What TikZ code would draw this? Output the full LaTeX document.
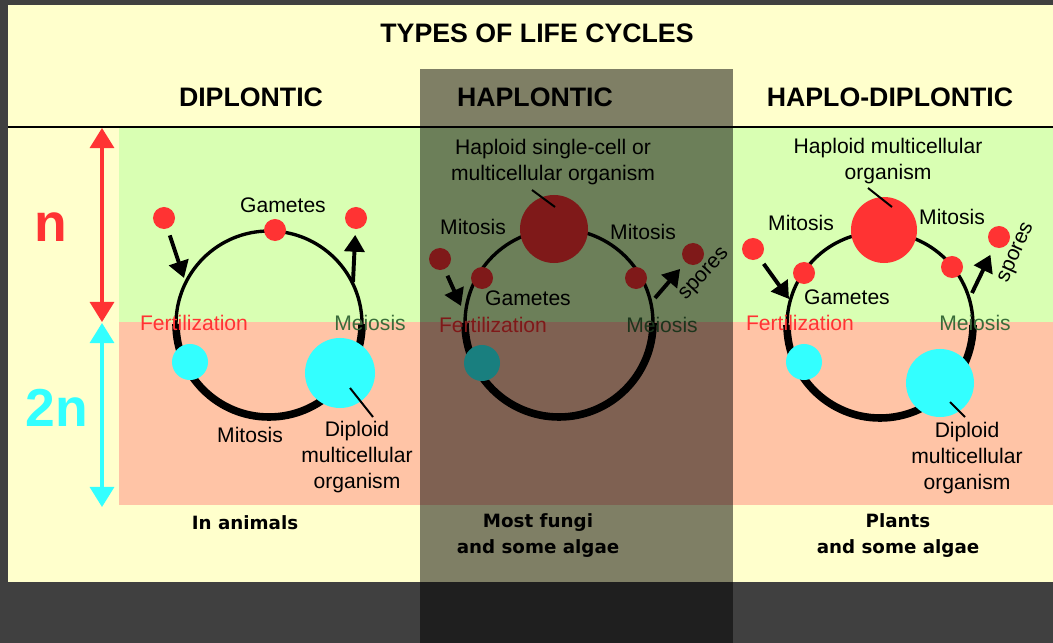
\documentclass[tikz,border=0pt]{standalone}
\usepackage{fontspec}
\setmainfont{Liberation Sans}
\newfontfamily\footfont{DejaVu Sans}
\usetikzlibrary{arrows.meta, positioning}
\definecolor{cbg}{HTML}{404040}
\definecolor{ccream}{HTML}{FFFFCC}
\definecolor{cgreen}{HTML}{D9FFB3}
\definecolor{csalmon}{HTML}{FFC4A6}
\definecolor{cred}{HTML}{FF3333}
\definecolor{ccyan}{HTML}{33FFFF}
\definecolor{cmeio}{HTML}{3A6B3A}
\tikzset{
  every picture/.style={font=\fontsize{15}{18.5}\selectfont},
  title/.style={font=\fontsize{19}{23}\selectfont\bfseries},
  label/.style={align=center, inner sep=0pt},
  fert/.style={label, text=cred},
  meio/.style={label, text=cmeio},
  foot/.style={font=\footfont\fontsize{13}{18.5}\selectfont\bfseries, align=center},
  ploidy/.style={font=\fontsize{38}{40}\selectfont\bfseries, inner sep=0pt},
  hapdot/.style={circle, fill=cred, inner sep=0pt, minimum size=#1},
  hapdot/.default=0.55cm,
  dipdot/.style={circle, fill=ccyan, inner sep=0pt, minimum size=#1},
  dipdot/.default=0.9cm,
  haparc/.style={line width=2.4pt},
  diparc/.style={line width=5.4pt},
  arrow/.style={-{Triangle[length=0.42cm, width=0.5cm]}, line width=2.8pt},
  level/.style={{Triangle[length=0.5cm, width=0.6cm]}-{Triangle[length=0.5cm, width=0.6cm]}, line width=2.3pt},
  leader/.style={line width=1.4pt},
}
% cycle: thin haploid half on top, thick diploid half below
\newcommand{\lifecycle}[4]{
  \coordinate (#1) at (#2,#3);
  \draw[haparc] (#1) ++(180:#4) arc[start angle=180, end angle=360, radius=#4];
  \draw[diparc] (#1) ++(0:#4) arc[start angle=0, end angle=180, radius=#4];}

\begin{document}
\begin{tikzpicture}[x=0.025cm, y=-0.025cm]
  \useasboundingbox[fill=cbg] (0,0) rectangle (1053,643);
  \fill[ccream] (8,5) rectangle (1053,582);
  \fill[cgreen] (119,128) rectangle (1053,322);
  \fill[csalmon] (119,322) rectangle (1053,505);
  \draw[line width=2pt] (8,127) -- (1053,127);

  \node[title] (ttl) at (537,33) {TYPES OF LIFE CYCLES};
  \node[title] (hdip) at (251,97) {DIPLONTIC};
  \node[title] (hhap) at (535,97) {HAPLONTIC};
  \node[title] (hhd) at (890,97) {HAPLO-DIPLONTIC};

  % ploidy levels
  \node[ploidy, text=cred] (n) at (51,227) {n};
  \node[ploidy, text=ccyan] (twon) at (57,408) {2n};
  \coordinate (ntop) at (102,128);
  \coordinate (nbot) at (102,322);
  \coordinate (dtop) at (102,323);
  \coordinate (dbot) at (102,507);
  \draw[level, cred] (ntop) -- (nbot);
  \draw[level, ccyan] (dtop) -- (dbot);

  % diplontic
  \lifecycle{cdip}{269}{324}{93}
  \node[hapdot] (dgam) at (275,230) {};
  \node[hapdot] (dg1) at (164,218) {};
  \node[hapdot] (dg2) at (356,218) {};
  \node[dipdot] (dzyg) at (190,362) {};
  \node[dipdot=1.75cm] (dorg) at (340,373) {};
  \node[label] (dgamt) at (283,205) {Gametes};
  \node[fert] (dfert) at (194,323) {Fertilization};
  \node[meio] (dmeio) at (370,323) {Meiosis};
  \node[label] (dmit) at (250,435) {Mitosis};
  \node[label] (dorgt) at (357,457) {Diploid\\multicellular\\organism};
  \node[foot] (dfoot) at (245,523) {In animals};
  \coordinate (da1) at (184,278);
  \coordinate (da2) at (353,282);
  \draw[arrow, shorten <=5pt] (dg1) -- (da1);
  \draw[arrow, shorten >=4pt] (da2) -- (dg2);
  \coordinate (dl1) at (350,388);
  \coordinate (dl2) at (373,417);
  \draw[leader] (dl1) -- (dl2);

  % haplontic
  \lifecycle{chap}{559}{323}{94}
  \node[hapdot=1.7cm] (horg) at (554,229) {};
  \node[hapdot] (hgam) at (482,278) {};
  \node[hapdot] (hspo) at (636,278) {};
  \node[hapdot] (hg1) at (440,259) {};
  \node[hapdot] (hsp) at (693,254) {};
  \node[dipdot] (hzyg) at (482,363) {};
  \node[label] (horgt) at (553,162) {Haploid single-cell or\\multicellular organism};
  \node[label] (hmit1) at (473,227) {Mitosis};
  \node[label] (hmit2) at (643,232) {Mitosis};
  \node[label] (hgamt) at (528,298) {Gametes};
  \node[fert] (hfert) at (493,325) {Fertilization};
  \node[meio] (hmeio) at (662,325) {Meiosis};
  \node[label, rotate=47] (hspot) at (705,275) {spores};
  \node[foot] (hfoot) at (538,536) {Most fungi\\and some algae};
  \coordinate (ha1) at (461,306);
  \coordinate (ha2) at (655,298);
  \draw[arrow, shorten <=5pt] (hg1) -- (ha1);
  \draw[arrow, shorten >=6pt] (ha2) -- (hsp);
  \coordinate (hl1) at (532,190);
  \coordinate (hl2) at (555,207);
  \draw[leader] (hl1) -- (hl2);

  % haplo-diplontic
  \lifecycle{chd}{880}{325}{93}
  \node[hapdot=1.65cm] (xorg) at (884,230) {};
  \node[hapdot] (xgam) at (804,273) {};
  \node[hapdot] (xspo) at (952,267) {};
  \node[hapdot] (xg1) at (753,249) {};
  \node[hapdot] (xsp) at (999,237) {};
  \node[dipdot] (xzyg) at (804,362) {};
  \node[dipdot=1.7cm] (xdip) at (940,383) {};
  \node[label] (xorgt) at (888,161) {Haploid multicellular\\organism};
  \node[label] (xmit1) at (801,223) {Mitosis};
  \node[label] (xmit2) at (952,217) {Mitosis};
  \node[label] (xgamt) at (847,297) {Gametes};
  \node[fert] (xfert) at (800,323) {Fertilization};
  \node[meio] (xmeio) at (975,323) {Meiosis};
  \node[label, rotate=66] (xspot) at (1017,253) {spores};
  \node[label] (xdipt) at (967,458) {Diploid\\multicellular\\organism};
  \node[foot] (xfoot) at (898,536) {Plants\\and some algae};
  \coordinate (xa1) at (789,299);
  \coordinate (xa2) at (972,293);
  \draw[arrow, shorten <=5pt] (xg1) -- (xa1);
  \draw[arrow, shorten >=6pt] (xa2) -- (xsp);
  \coordinate (xl1) at (868,188);
  \coordinate (xl2) at (892,207);
  \draw[leader] (xl1) -- (xl2);
  \coordinate (xl3) at (950,402);
  \coordinate (xl4) at (965,417);
  \draw[leader] (xl3) -- (xl4);

  % shaded haplontic column
  \fill[black, opacity=0.5] (420,69) rectangle (733,643);
\end{tikzpicture}
\end{document}
